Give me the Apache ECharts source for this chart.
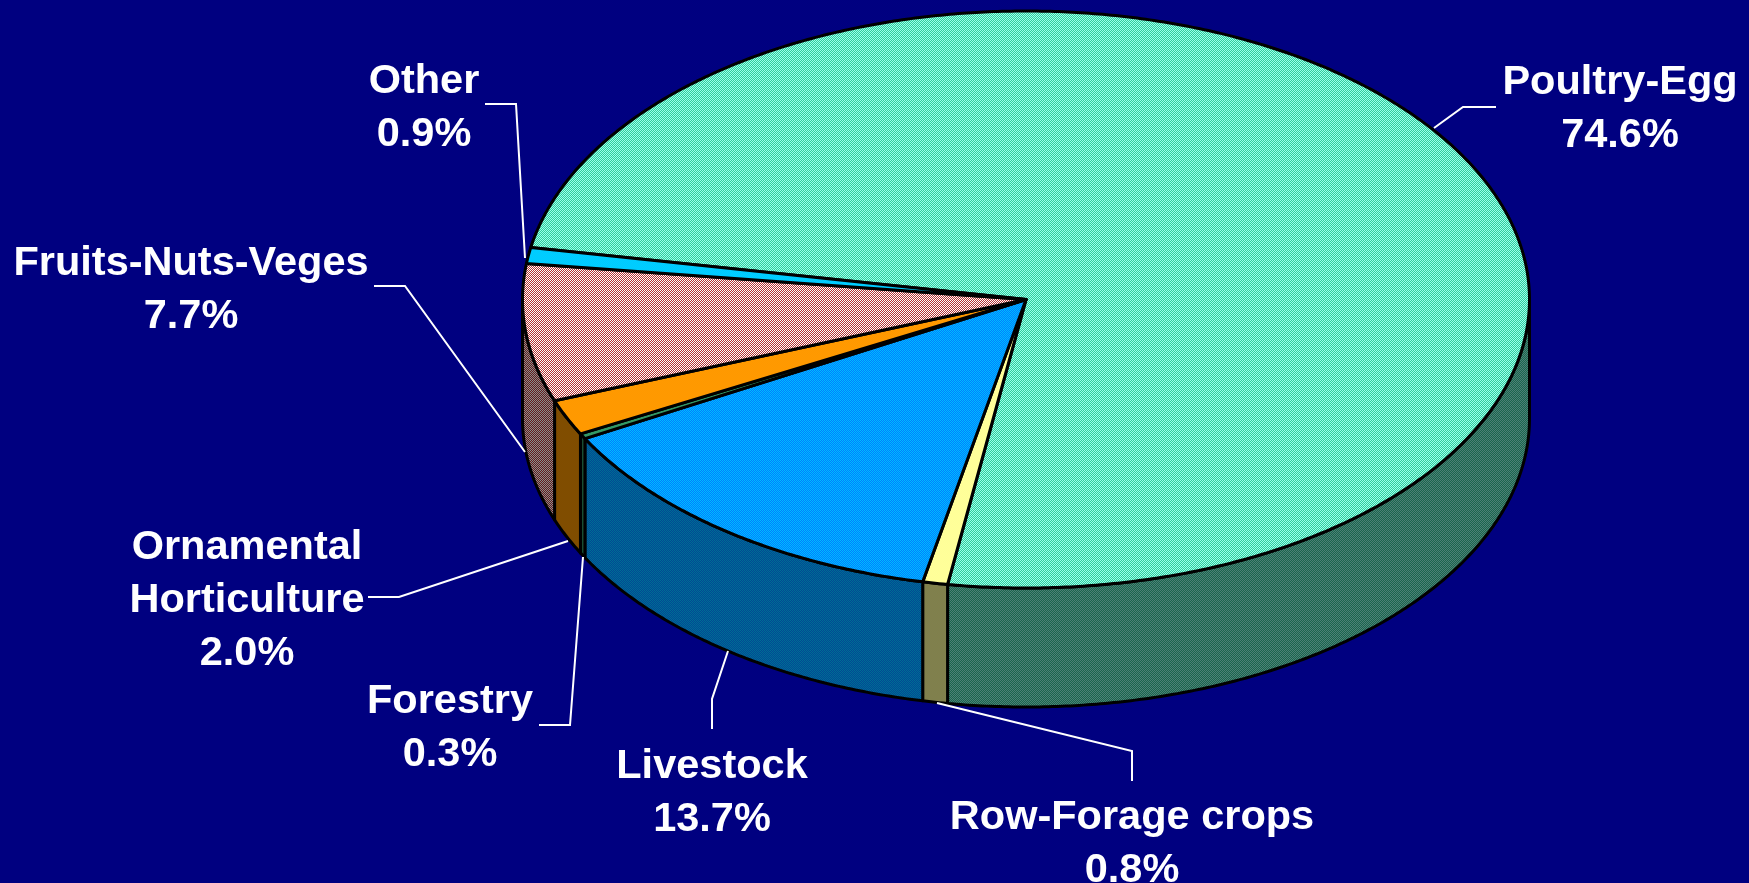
<!DOCTYPE html>
<html>
<head>
<meta charset="utf-8">
<style>
html, body { margin: 0; padding: 0; background: #000080; }
#main { width: 1749px; height: 883px; }
</style>
<script src="https://cdn.jsdelivr.net/npm/echarts@6/dist/echarts.min.js"></script>
</head>
<body>
<div id="main"></div>
<script>
// slices, clockwise from the back left edge of the poultry slice
const categories = ['Poultry-Egg', 'Row-Forage crops', 'Livestock', 'Forestry', 'Ornamental\nHorticulture', 'Fruits-Nuts-Veges', 'Other'];
const shares = [74.6, 0.8, 13.7, 0.3, 2.0, 7.7, 0.9];

// two colours per slice, the original fills are dithered
const colorsA = ['#33cc99', '#ffff99', '#0080ff', '#339966', '#ff9900', '#b33333', '#00ccff'];
const colorsB = ['#99ffee', '#ffff99', '#00bbff', '#339966', '#ff9900', '#ffffff', '#00ccff'];
const sideShade = [0.5, 0.5, 0.58, 0.5, 0.5, 0.55, 0.5];

// label centre and leader line per slice
const labelX = [1620, 1132, 712, 450, 247, 191, 424];
const labelY = [109, 844, 793, 728, 601, 290, 108];
const leaders = [
    [[1434, 128], [1463, 107], [1496, 107]],
    [[937, 703], [1132, 751], [1132, 781]],
    [[728, 651], [712, 699], [712, 729]],
    [[583, 557], [570, 725], [539, 725]],
    [[568, 541], [399, 597], [368, 597]],
    [[525, 452], [405, 286], [374, 286]],
    [[525, 258], [516, 104], [485, 104]]
];

const pie = { cx: 1026, cy: 299.5, rx: 503.5, ry: 288.5, depth: 119, start: 280.4 };
const FONT = 'bold 41.5px "Liberation Sans", Arial, sans-serif';

let total = shares.reduce((a, b) => a + b, 0);
let slices = [];
let at = pie.start;
shares.forEach(v => {
    let sweep = v / total * 360;
    slices.push({ from: at, to: at + sweep });
    at += sweep;
});

function point(deg, drop) {
    let r = deg * Math.PI / 180;
    return [pie.cx + pie.rx * Math.sin(r), pie.cy - pie.ry * Math.cos(r) + (drop || 0)];
}

function arc(from, to, drop) {
    let pts = [];
    let n = Math.max(2, Math.ceil((to - from) / 0.5));
    for (let i = 0; i <= n; i++) {
        pts.push(point(from + (to - from) * i / n, drop));
    }
    return pts;
}

function shade(hex, k) {
    let n = parseInt(hex.slice(1), 16);
    let c = [n >> 16, (n >> 8) & 255, n & 255].map(x => Math.round(x * k));
    return 'rgb(' + c.join(',') + ')';
}

function dither(a, b) {
    let canvas = document.createElement('canvas');
    canvas.width = 2;
    canvas.height = 2;
    let ctx = canvas.getContext('2d');
    ctx.fillStyle = a;
    ctx.fillRect(0, 0, 2, 2);
    ctx.fillStyle = b;
    ctx.fillRect(0, 0, 1, 1);
    ctx.fillRect(1, 1, 1, 1);
    return { image: canvas, repeat: 'repeat' };
}

const topFills = colorsA.map((c, i) => dither(c, colorsB[i]));
const sideFills = colorsA.map((c, i) => dither(shade(c, sideShade[i]), shade(colorsB[i], sideShade[i])));
const lineStyle = { stroke: '#000', lineWidth: 3, lineJoin: 'round' };

function renderSide(params) {
    let i = params.dataIndex;
    let s = slices[i];
    let children = [];
    // only the front half of the rim can be seen
    [[90, 270], [450, 630]].forEach(range => {
        let from = Math.max(s.from, range[0]);
        let to = Math.min(s.to, range[1]);
        if (to <= from) return;
        let pts = arc(from, to, 0).concat(arc(from, to, pie.depth).reverse());
        children.push({
            type: 'polygon',
            shape: { points: pts },
            style: Object.assign({ fill: sideFills[i] }, lineStyle)
        });
    });
    return { type: 'group', children: children };
}

function renderTop(params) {
    let i = params.dataIndex;
    let s = slices[i];
    let pts = [[pie.cx, pie.cy]].concat(arc(s.from, s.to, 0));
    return {
        type: 'polygon',
        shape: { points: pts },
        style: Object.assign({ fill: topFills[i] }, lineStyle)
    };
}

function renderLabel(params) {
    let i = params.dataIndex;
    return {
        type: 'group',
        children: [{
            type: 'polyline',
            shape: { points: leaders[i] },
            style: { stroke: '#fff', lineWidth: 2, fill: null }
        }, {
            type: 'text',
            style: {
                text: categories[i] + '\n' + shares[i].toFixed(1) + '%',
                x: labelX[i],
                y: labelY[i],
                fill: '#fff',
                font: FONT,
                lineHeight: 53,
                align: 'center',
                verticalAlign: 'middle'
            }
        }]
    };
}

let chart = echarts.init(document.getElementById('main'));
chart.setOption({
    backgroundColor: '#000080',
    animation: false,
    series: [
        { type: 'custom', coordinateSystem: 'none', silent: true, data: shares, renderItem: renderSide },
        { type: 'custom', coordinateSystem: 'none', silent: true, data: shares, renderItem: renderTop },
        { type: 'custom', coordinateSystem: 'none', silent: true, data: shares, renderItem: renderLabel }
    ]
});
</script>
</body>
</html>
